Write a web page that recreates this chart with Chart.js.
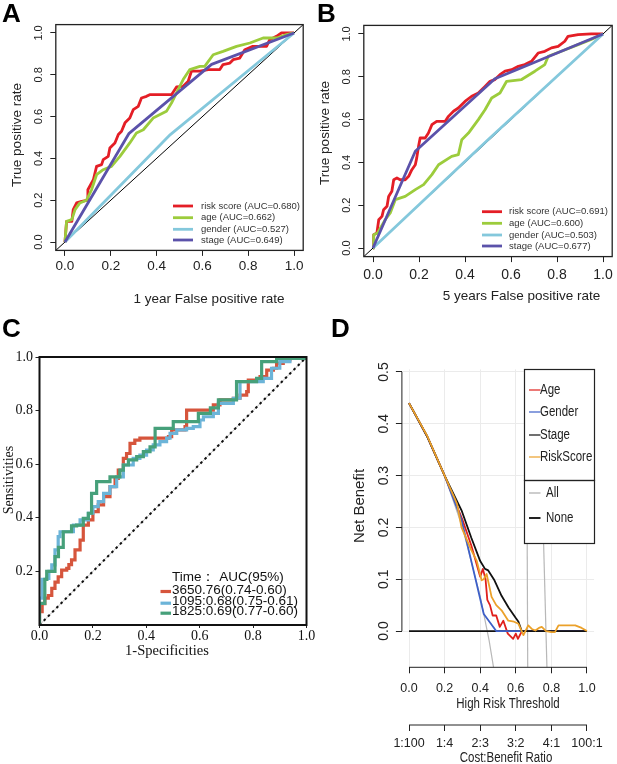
<!DOCTYPE html>
<html><head><meta charset="utf-8">
<script src="https://cdn.jsdelivr.net/npm/chart.js@4.4.1/dist/chart.umd.min.js"></script>
<style>
html,body{margin:0;padding:0;background:#fff;width:617px;height:764px;overflow:hidden;position:relative}
</style></head><body>
<div><canvas id="cA"></canvas></div>
<div><canvas id="cB"></canvas></div>
<div><canvas id="cC"></canvas></div>
<div><canvas id="cD"></canvas></div>
<script>
// ---------- DATA ----------
const TICKS01 = [0, 0.2, 0.4, 0.6, 0.8, 1.0];
const TICKS_C_Y = [0.2, 0.4, 0.6, 0.8, 1.0];
const TICKS_D_Y = [0, 0.1, 0.2, 0.3, 0.4, 0.5];
const D_RATIO_LABELS = ['1:100', '1:4', '2:3', '3:2', '4:1', '100:1'];
const DIAG = [[-0.04, -0.04], [1.04, 1.04]];
const DIAG01 = [[0, 0], [1, 1]];

const A_LEGEND = ['risk score (AUC=0.680)', 'age (AUC=0.662)', 'gender (AUC=0.527)', 'stage (AUC=0.649)'];
const B_LEGEND = ['risk score (AUC=0.691)', 'age (AUC=0.600)', 'gender (AUC=0.503)', 'stage (AUC=0.677)'];
const C_LEGEND_TITLE = 'Time\uFF1A AUC(95%)';
const C_LEGEND = ['3650.76(0.74-0.60)', '1095:0.68(0.75-0.61)', '1825:0.69(0.77-0.60)'];
const D_LEGEND = ['Age', 'Gender', 'Stage', 'RiskScore'];
const D_LEGEND2 = ['All', 'None'];

const A_RISK = [[0,0],[0.007,0.099],[0.03,0.099],[0.036,0.155],[0.051,0.187],[0.073,0.195],[0.1,0.2],[0.1,0.25],[0.124,0.298],[0.138,0.362],[0.16,0.37],[0.167,0.394],[0.189,0.41],[0.196,0.45],[0.218,0.474],[0.233,0.514],[0.247,0.53],[0.262,0.57],[0.283,0.593],[0.298,0.633],[0.32,0.649],[0.334,0.689],[0.356,0.697],[0.37,0.705],[0.465,0.705],[0.487,0.742],[0.516,0.745],[0.538,0.769],[0.552,0.817],[0.589,0.817],[0.625,0.825],[0.676,0.825],[0.69,0.849],[0.72,0.856],[0.734,0.872],[0.763,0.88],[0.785,0.92],[0.82,0.936],[0.88,0.936],[0.894,0.968],[0.923,0.984],[0.945,1],[1,1]];
const A_AGE = [[0,0],[0.007,0.099],[0.03,0.107],[0.044,0.155],[0.065,0.187],[0.094,0.2],[0.116,0.25],[0.138,0.322],[0.167,0.346],[0.203,0.362],[0.24,0.41],[0.283,0.474],[0.312,0.522],[0.342,0.537],[0.385,0.593],[0.443,0.625],[0.465,0.665],[0.487,0.713],[0.516,0.777],[0.545,0.825],[0.589,0.84],[0.61,0.84],[0.647,0.896],[0.69,0.912],[0.749,0.936],[0.807,0.952],[0.865,0.976],[0.925,0.976],[0.967,0.992],[1,1]];
const A_GENDER = [[0,0],[0.46,0.514],[1,1]];
const A_STAGE = [[0,0],[0.28,0.52],[0.64,0.85],[1,1]];

const B_RISK = [[0,0],[0.003,0.062],[0.017,0.07],[0.025,0.132],[0.039,0.148],[0.046,0.179],[0.061,0.195],[0.068,0.241],[0.082,0.265],[0.09,0.319],[0.104,0.327],[0.118,0.319],[0.14,0.319],[0.155,0.335],[0.169,0.366],[0.184,0.389],[0.19,0.42],[0.198,0.475],[0.205,0.514],[0.227,0.514],[0.241,0.537],[0.256,0.576],[0.277,0.592],[0.314,0.592],[0.328,0.615],[0.35,0.639],[0.371,0.654],[0.4,0.685],[0.429,0.709],[0.458,0.724],[0.487,0.755],[0.509,0.779],[0.53,0.787],[0.552,0.81],[0.574,0.826],[0.603,0.833],[0.632,0.849],[0.66,0.857],[0.689,0.872],[0.718,0.911],[0.747,0.919],[0.776,0.935],[0.805,0.942],[0.834,0.966],[0.848,0.989],[0.892,0.997],[0.949,1],[1,1]];
const B_AGE = [[0,0],[0.003,0.062],[0.02,0.07],[0.053,0.132],[0.075,0.164],[0.097,0.226],[0.14,0.241],[0.184,0.273],[0.22,0.296],[0.256,0.343],[0.285,0.389],[0.342,0.428],[0.371,0.436],[0.386,0.506],[0.415,0.537],[0.458,0.6],[0.487,0.646],[0.516,0.701],[0.552,0.724],[0.581,0.779],[0.646,0.787],[0.704,0.826],[0.747,0.857],[0.762,0.896],[0.819,0.919],[0.892,0.95],[0.949,0.974],[1,1]];
const B_GENDER = [[0,0],[0.5,0.506],[1,1]];
const B_STAGE = [[0,0],[0.184,0.452],[0.53,0.791],[1,1]];

const C_3650 = [[0,0],[0,0.05],[0.01,0.08],[0.02,0.1],[0.033,0.11],[0.046,0.137],[0.058,0.16],[0.07,0.18],[0.083,0.205],[0.102,0.211],[0.11,0.225],[0.12,0.243],[0.133,0.28],[0.152,0.317],[0.164,0.348],[0.164,0.373],[0.183,0.392],[0.2,0.423],[0.22,0.448],[0.24,0.479],[0.264,0.516],[0.283,0.547],[0.295,0.578],[0.314,0.622],[0.326,0.64],[0.339,0.678],[0.357,0.69],[0.376,0.697],[0.47,0.697],[0.483,0.703],[0.495,0.728],[0.545,0.74],[0.551,0.802],[0.601,0.802],[0.651,0.821],[0.676,0.84],[0.726,0.846],[0.751,0.858],[0.776,0.871],[0.782,0.914],[0.826,0.927],[0.851,0.951],[0.876,0.958],[0.888,0.976],[0.913,0.989],[0.938,1],[1,1]];
const C_1095 = [[0,0],[0,0.1],[0.01,0.17],[0.027,0.174],[0.035,0.2],[0.046,0.224],[0.058,0.28],[0.07,0.33],[0.077,0.348],[0.115,0.348],[0.127,0.373],[0.152,0.392],[0.164,0.392],[0.183,0.417],[0.2,0.442],[0.22,0.46],[0.24,0.491],[0.264,0.516],[0.289,0.553],[0.314,0.597],[0.351,0.622],[0.376,0.634],[0.401,0.653],[0.426,0.672],[0.451,0.684],[0.476,0.697],[0.489,0.715],[0.514,0.728],[0.551,0.734],[0.576,0.74],[0.601,0.765],[0.614,0.777],[0.651,0.79],[0.67,0.827],[0.726,0.846],[0.751,0.908],[0.838,0.92],[0.869,0.958],[0.9,0.983],[0.938,0.995],[1,1]];
const C_1825 = [[0,0],[0,0.081],[0.02,0.17],[0.027,0.2],[0.04,0.2],[0.058,0.255],[0.071,0.29],[0.089,0.348],[0.12,0.348],[0.12,0.37],[0.139,0.373],[0.164,0.398],[0.183,0.417],[0.195,0.491],[0.214,0.535],[0.264,0.535],[0.264,0.553],[0.289,0.553],[0.301,0.578],[0.314,0.597],[0.333,0.616],[0.364,0.628],[0.389,0.647],[0.414,0.665],[0.433,0.678],[0.433,0.734],[0.501,0.734],[0.501,0.759],[0.545,0.759],[0.595,0.79],[0.64,0.81],[0.67,0.84],[0.738,0.852],[0.738,0.908],[0.813,0.92],[0.832,0.983],[0.888,0.995],[1,1]];

const D_AGE = [[0,0.44],[0.1,0.377],[0.2,0.3],[0.3,0.215],[0.35,0.165],[0.4,0.105],[0.415,0.12],[0.43,0.1],[0.44,0.06],[0.455,0.05],[0.47,0.03],[0.49,0.03],[0.51,0.008],[0.53,0.02],[0.555,-0.005],[0.585,-0.015],[0.6,-0.005],[0.612,-0.015],[0.635,0],[1,0]];
const D_GENDER = [[0,0.44],[0.1,0.377],[0.2,0.3],[0.295,0.215],[0.42,0.033],[0.49,0],[1,0]];
const D_STAGE = [[0,0.44],[0.1,0.377],[0.2,0.3],[0.295,0.233],[0.35,0.18],[0.4,0.135],[0.427,0.12],[0.445,0.117],[0.48,0.098],[0.52,0.068],[0.56,0.045],[0.6,0.025],[0.615,0.018],[0.633,0],[1,0]];
const D_RISK = [[0,0.44],[0.1,0.378],[0.2,0.3],[0.258,0.255],[0.27,0.245],[0.295,0.2],[0.35,0.156],[0.38,0.136],[0.408,0.098],[0.42,0.1],[0.436,0.11],[0.464,0.066],[0.49,0.05],[0.52,0.04],[0.558,0.02],[0.59,0.018],[0.615,0.014],[0.643,-0.008],[0.67,0.011],[0.69,0.004],[0.71,0.001],[0.73,0.006],[0.746,0.008],[0.77,0],[0.8,-0.002],[0.82,-0.002],[0.84,0.011],[0.934,0.011],[0.97,0.006],[1,0]];
const D_ALL = [[0,0.44],[0.1,0.378],[0.2,0.3],[0.3,0.2],[0.4,0.067],[0.45,-0.018],[0.475,-0.07]];
const D_NONE = [[0,0],[1,0]];
const D_ALL_V1 = [[0.66,0.505],[0.667,-0.07]];
const D_ALL_V2 = [[0.73,0.505],[0.775,-0.07]];

// ---------- STYLE / HELPERS ----------
const SANS = "'Liberation Sans', Arial, sans-serif";
const SERIF = "'Liberation Serif', 'Times New Roman', serif";
const NARROW_SCALE = 0.82;

function line(pts, color, width, extra) {
  return Object.assign({
    data: pts.map(p => ({x: p[0], y: p[1]})),
    borderColor: color, borderWidth: width, showLine: true, pointRadius: 0,
    fill: false, tension: 0, borderJoinStyle: 'round', borderCapStyle: 'butt'
  }, extra || {});
}

function lin(o) {
  return {
    type: 'linear', position: o.pos, min: o.min, max: o.max, weight: o.weight || 0,
    afterBuildTicks: s => { s.ticks = o.ticks.map(v => ({value: v})); },
    afterFit: s => {
      if (s.isHorizontal()) s.height = o.size; else s.width = o.size;
      s.paddingLeft = 0; s.paddingRight = 0; s.paddingTop = 0; s.paddingBottom = 0;
    },
    border: {display: false},
    grid: {display: true, drawOnChartArea: !!o.onArea, color: o.gridColor || '#000',
           tickColor: '#222', tickLength: o.tickLen, lineWidth: 1, drawTicks: true},
    ticks: {font: o.font, color: o.color, padding: o.pad, minRotation: o.rot || 0, maxRotation: o.rot || 0,
            autoSkip: false, crossAlign: o.cross || 'near',
            callback: (v, i) => o.labels ? o.labels[i] : Number(v).toFixed(1)}
  };
}

function txt(ctx, s, x, y, font, color, align, base, rot, sx) {
  ctx.save(); ctx.translate(x, y); if (rot) ctx.rotate(rot); if (sx) ctx.scale(sx, 1);
  ctx.font = font; ctx.fillStyle = color; ctx.textAlign = align || 'center'; ctx.textBaseline = base || 'middle';
  ctx.fillText(s, 0, 0); ctx.restore();
}

function makeChart(id, rect, area, datasets, scales, extra) {
  const cv = document.getElementById(id);
  cv.width = rect.w; cv.height = rect.h;
  cv.parentElement.style.cssText = `position:absolute;left:${rect.x}px;top:${rect.y}px;width:${rect.w}px;height:${rect.h}px`;
  return new Chart(cv, {
    type: 'scatter',
    data: {datasets},
    options: {
      responsive: false, animation: false, events: [], devicePixelRatio: 1,
      layout: {padding: {left: 0, top: area.t - rect.y, right: rect.x + rect.w - area.r, bottom: 0}},
      plugins: {legend: {display: false}, tooltip: {enabled: false}, title: {display: false}},
      scales
    },
    plugins: [{id: 'extra', afterDraw(c) {
      const ctx = c.ctx; ctx.save(); ctx.translate(-rect.x, -rect.y);
      const a = c.chartArea;
      extra(c, ctx, {l: a.left + rect.x, r: a.right + rect.x, t: a.top + rect.y, b: a.bottom + rect.y}, rect);
      ctx.restore();
    }}]
  });
}

function rocLegend(ctx, x0, x1, xt, ys, labels, colors) {
  labels.forEach((s, i) => {
    ctx.strokeStyle = colors[i]; ctx.lineWidth = 2.8; ctx.beginPath();
    ctx.moveTo(x0, ys[i]); ctx.lineTo(x1, ys[i]); ctx.stroke();
    txt(ctx, s, xt, ys[i], '9.5px ' + SANS, '#333', 'left', 'middle');
  });
}

const ROC_COLORS = ['#e41e26', '#9ccc3c', '#84c8dc', '#5b52aa'];

// ---------- PANEL A ----------
const rA = {x: 0, y: 0, w: 308, h: 310}, aA = {l: 55.8, t: 24.6, r: 303.2, b: 250.4};
makeChart('cA', rA, aA, [
  line(DIAG, '#000', 1, {order: 5}),
  line(A_RISK, ROC_COLORS[0], 2.8, {order: 4}),
  line(A_AGE, ROC_COLORS[1], 2.8, {order: 3}),
  line(A_GENDER, ROC_COLORS[2], 2.8, {order: 2}),
  line(A_STAGE, ROC_COLORS[3], 2.8, {order: 1})
], {
  x: lin({min: -0.04, max: 1.04, ticks: TICKS01, pos: 'bottom', size: rA.y + rA.h - aA.b, tickLen: 5.5,
          font: {family: SANS, size: 13.5}, color: '#222', pad: 2.5}),
  y: lin({min: -0.04, max: 1.04, ticks: TICKS01, pos: 'left', size: aA.l - rA.x, tickLen: 5.5,
          font: {family: SANS, size: 11}, color: '#222', pad: 3.2, rot: 90, cross: 'center'})
}, (c, ctx, a) => {
  ctx.strokeStyle = '#222'; ctx.lineWidth = 1.3; ctx.strokeRect(a.l, a.t, a.r - a.l, a.b - a.t);
  txt(ctx, 'True positive rate', 17, 135, '13.5px ' + SANS, '#222', 'center', 'middle', -Math.PI / 2);
  txt(ctx, '1 year False positive rate', 209, 303, '13.5px ' + SANS, '#222', 'center', 'alphabetic');
  rocLegend(ctx, 173, 193, 201, [206, 217.7, 229.3, 240], A_LEGEND, ROC_COLORS);
  txt(ctx, 'A', 2, 22, 'bold 26px ' + SANS, '#000', 'left', 'alphabetic');
});

// ---------- PANEL B ----------
const rB = {x: 308, y: 0, w: 309, h: 310}, aB = {l: 363.8, t: 25.4, r: 612.2, b: 256.6};
makeChart('cB', rB, aB, [
  line(DIAG, '#000', 1, {order: 5}),
  line(B_RISK, ROC_COLORS[0], 2.8, {order: 4}),
  line(B_AGE, ROC_COLORS[1], 2.8, {order: 3}),
  line(B_GENDER, ROC_COLORS[2], 2.8, {order: 2}),
  line(B_STAGE, ROC_COLORS[3], 2.8, {order: 1})
], {
  x: lin({min: -0.04, max: 1.04, ticks: TICKS01, pos: 'bottom', size: rB.y + rB.h - aB.b, tickLen: 5.5,
          font: {family: SANS, size: 14}, color: '#222', pad: 5}),
  y: lin({min: -0.04, max: 1.04, ticks: TICKS01, pos: 'left', size: aB.l - rB.x, tickLen: 5.5,
          font: {family: SANS, size: 11}, color: '#222', pad: 3.2, rot: 90, cross: 'center'})
}, (c, ctx, a) => {
  ctx.strokeStyle = '#222'; ctx.lineWidth = 1.3; ctx.strokeRect(a.l, a.t, a.r - a.l, a.b - a.t);
  txt(ctx, 'True positive rate', 325, 133, '13.5px ' + SANS, '#222', 'center', 'middle', -Math.PI / 2);
  txt(ctx, '5 years False positive rate', 521.5, 300, '13.5px ' + SANS, '#222', 'center', 'alphabetic');
  rocLegend(ctx, 482, 502, 509, [211.7, 223.3, 235, 246], B_LEGEND, ROC_COLORS);
  txt(ctx, 'B', 317, 22, 'bold 26px ' + SANS, '#000', 'left', 'alphabetic');
});

// ---------- PANEL C ----------
const C_COLORS = ['#d6553c', '#6cb4d8', '#46a07a'];
const rC = {x: 0, y: 310, w: 320, h: 454}, aC = {l: 39.5, t: 357, r: 306.5, b: 625};
makeChart('cC', rC, aC, [
  line(DIAG01, '#bdbdbd', 1, {order: 6}),
  line(DIAG01, '#111', 2, {order: 5, borderDash: [2.5, 3.5]}),
  line(C_3650, C_COLORS[0], 3.2, {order: 3, stepped: 'before', borderJoinStyle: 'miter'}),
  line(C_1095, C_COLORS[1], 3.2, {order: 2, stepped: 'before', borderJoinStyle: 'miter'}),
  line(C_1825, C_COLORS[2], 3.2, {order: 1, stepped: 'before', borderJoinStyle: 'miter'})
], {
  x: lin({min: 0, max: 1, ticks: TICKS01, pos: 'bottom', size: rC.y + rC.h - aC.b, tickLen: 3,
          font: {family: SERIF, size: 14}, color: '#111', pad: 0}),
  y: lin({min: 0, max: 1, ticks: TICKS_C_Y, pos: 'left', size: aC.l - rC.x, tickLen: 4,
          font: {family: SERIF, size: 14}, color: '#111', pad: 2.5})
}, (c, ctx, a) => {
  ctx.strokeStyle = '#111'; ctx.lineWidth = 2; ctx.strokeRect(a.l, a.t, a.r - a.l, a.b - a.t);
  txt(ctx, 'Sensitivities', 9, 480, '14px ' + SERIF, '#111', 'center', 'middle', -Math.PI / 2);
  txt(ctx, '1-Specificities', 167, 654.6, '14.5px ' + SERIF, '#111', 'center', 'alphabetic');
  txt(ctx, C_LEGEND_TITLE, 172, 577, '13.5px ' + SANS, '#111', 'left', 'middle');
  const ys = [590, 601.7, 611.7];
  C_LEGEND.forEach((s, i) => {
    ctx.strokeStyle = C_COLORS[i]; ctx.lineWidth = 3.2; ctx.beginPath();
    ctx.moveTo(160.5, ys[i] + 1.5); ctx.lineTo(171, ys[i] + 1.5); ctx.stroke();
    txt(ctx, s, 172, ys[i], '13.5px ' + SANS, '#111', 'left', 'middle');
  });
  txt(ctx, 'C', 2, 337, 'bold 26px ' + SANS, '#000', 'left', 'alphabetic');
});

// ---------- PANEL D ----------
const D_COLORS = ['#e0201c', '#3d5fc8', '#111111', '#eba12a'];
const rD = {x: 310, y: 310, w: 307, h: 454}, aD = {l: 401.9, t: 369.4, r: 594.1, b: 667.3};
const X2_TOP = 725;
makeChart('cD', rD, aD, [
  line(D_ALL_V1, '#b8b8b8', 1.2, {order: 7}),
  line(D_ALL_V2, '#b8b8b8', 1.2, {order: 7}),
  line(D_ALL, '#b8b8b8', 1.2, {order: 6}),
  line(D_NONE, '#111', 1.8, {order: 5}),
  line(D_AGE, D_COLORS[0], 1.8, {order: 4}),
  line(D_GENDER, D_COLORS[1], 1.8, {order: 3}),
  line(D_STAGE, D_COLORS[2], 1.8, {order: 2}),
  line(D_RISK, D_COLORS[3], 1.8, {order: 1})
], {
  x: lin({min: -0.04, max: 1.04, ticks: TICKS01, pos: 'bottom', size: X2_TOP - aD.b, tickLen: 6,
          font: {family: SANS, size: 12.5}, color: '#222', pad: 8, onArea: true, gridColor: '#ebebeb'}),
  x2: lin({min: -0.04, max: 1.04, ticks: TICKS01, pos: 'bottom', size: rD.y + rD.h - X2_TOP, tickLen: 6, weight: 1,
          font: {family: SANS, size: 12.5}, color: '#222', pad: 4.9, labels: D_RATIO_LABELS}),
  y: lin({min: -0.07, max: 0.505, ticks: TICKS_D_Y, pos: 'left', size: aD.l - rD.x, tickLen: 6,
          font: {family: SANS, size: 14}, color: '#222', pad: 2.4, rot: 90, cross: 'center', onArea: true, gridColor: '#ebebeb'})
}, (c, ctx, a, r) => {
  const xs = c.scales.x, ys = c.scales.y, x2 = c.scales.x2;
  const px = v => xs.getPixelForValue(v) + r.x, py = v => ys.getPixelForValue(v) + r.y;
  ctx.strokeStyle = '#222'; ctx.lineWidth = 1;
  ctx.beginPath();
  ctx.moveTo(a.l, py(0)); ctx.lineTo(a.l, py(0.5));
  ctx.moveTo(px(0), a.b); ctx.lineTo(px(1), a.b);
  ctx.moveTo(px(0), x2.top + r.y); ctx.lineTo(px(1), x2.top + r.y);
  ctx.stroke();
  const NF = '14px ' + SANS;
  txt(ctx, 'Net Benefit', 360, 506, '15px ' + SANS, '#222', 'center', 'middle', -Math.PI / 2);
  txt(ctx, 'High Risk Threshold', 508, 708.3, NF, '#222', 'center', 'alphabetic', 0, NARROW_SCALE);
  txt(ctx, 'Cost:Benefit Ratio', 506, 761.7, NF, '#222', 'center', 'alphabetic', 0, NARROW_SCALE);
  // legend
  ctx.fillStyle = '#fff'; ctx.fillRect(524, 369, 70, 174);
  ctx.strokeStyle = '#222'; ctx.lineWidth = 1.2;
  ctx.strokeRect(524.5, 369.5, 70, 111); ctx.strokeRect(524.5, 480.5, 70, 63);
  const ly = [390, 412, 435, 457];
  D_LEGEND.forEach((s, i) => {
    ctx.strokeStyle = D_COLORS[i]; ctx.lineWidth = 1.2; ctx.beginPath();
    ctx.moveTo(529, ly[i]); ctx.lineTo(540.5, ly[i]); ctx.stroke();
    txt(ctx, s, 540, ly[i], NF, '#222', 'left', 'middle', 0, NARROW_SCALE);
  });
  const ly2 = [493, 518], lc2 = ['#b8b8b8', '#222'], lw2 = [1.4, 2];
  D_LEGEND2.forEach((s, i) => {
    ctx.strokeStyle = lc2[i]; ctx.lineWidth = lw2[i]; ctx.beginPath();
    ctx.moveTo(529, ly2[i]); ctx.lineTo(540.5, ly2[i]); ctx.stroke();
    txt(ctx, s, 546, ly2[i], NF, '#222', 'left', 'middle', 0, NARROW_SCALE);
  });
  txt(ctx, 'D', 331, 337, 'bold 26px ' + SANS, '#000', 'left', 'alphabetic');
});
</script>
</body></html>
